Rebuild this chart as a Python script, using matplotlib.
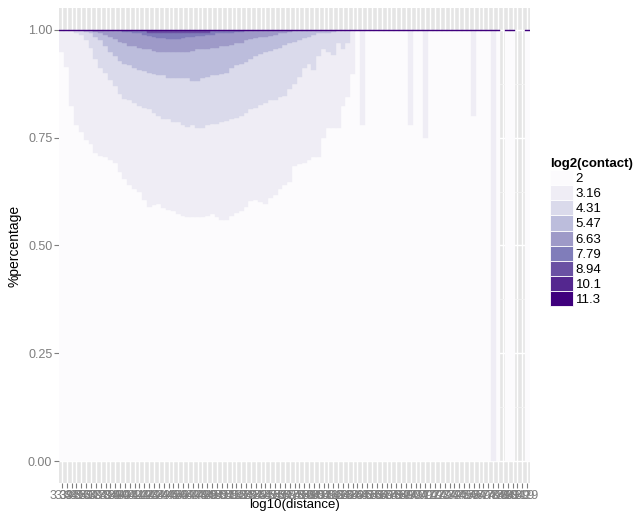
import numpy as np
import matplotlib
matplotlib.use("Agg")
import matplotlib.pyplot as plt
from matplotlib.patches import Patch

plt.rcParams['font.family'] = ['Liberation Sans', 'DejaVu Sans']

# x categories (log10 of distance), illegible in the source, read roughly
distance_labels = (
    "3.39 3.44 3.49 3.54 3.59 3.64 3.69 3.74 3.79 3.84 "
    "3.89 3.94 3.99 4.04 4.09 4.14 4.19 4.24 4.29 4.34 "
    "4.39 4.44 4.49 4.54 4.59 4.64 4.69 4.74 4.79 4.84 "
    "4.89 4.94 4.99 5.04 5.09 5.14 5.19 5.24 5.29 5.34 "
    "5.39 5.44 5.49 5.54 5.59 5.64 5.69 5.74 5.79 5.84 "
    "5.89 5.94 5.99 6.04 6.09 6.14 6.19 6.24 6.29 6.34 "
    "6.39 6.44 6.49 6.54 6.59 6.64 6.69 6.74 6.79 6.84 "
    "6.89 6.94 6.99 7.04 7.09 7.14 7.19 7.24 7.29 7.34 "
    "7.39 7.44 7.49 7.54 7.59 7.64 7.69 7.74 7.79 7.84 "
    "7.89 7.94 7.99 8.04 8.09 8.19 8.29"
).split()

contact_levels = ["2", "3.16", "4.31", "5.47", "6.63", "7.79", "8.94", "10.1", "11.3"]
level_colors = ["#fcfbfd", "#efedf5", "#dadaeb", "#bcbddc", "#9e9ac8",
                "#807dba", "#6a51a3", "#54278f", "#3f007d"]

# categories with no bar at all
missing = [91, 94, 95]

# cumulative share reached at the top of each contact level, per category
top_2 = [0.947, 0.914, 0.822, 0.780, 0.762, 0.745, 0.734, 0.715, 0.708, 0.704,
         0.697, 0.692, 0.671, 0.653, 0.641, 0.630, 0.625, 0.606, 0.590, 0.593,
         0.595, 0.588, 0.583, 0.581, 0.574, 0.569, 0.567, 0.565, 0.565, 0.565,
         0.569, 0.572, 0.565, 0.560, 0.560, 0.569, 0.576, 0.579, 0.590, 0.602,
         0.606, 0.600, 0.595, 0.611, 0.618, 0.630, 0.641, 0.648, 0.683, 0.688,
         0.692, 0.699, 0.704, 0.704, 0.750, 0.773, 0.773, 0.773, 0.824, 0.843,
         0.898, 1.0, 0.778, 1.0, 1.0, 1.0, 1.0, 1.0, 1.0, 1.0,
         1.0, 1.0, 0.778, 1.0, 1.0, 0.750, 1.0, 1.0, 1.0, 1.0,
         1.0, 1.0, 1.0, 1.0, 1.0, 0.799, 1.0, 1.0, 1.0, 0.0,
         1.0, 1.0, 1.0, 1.0, 1.0, 1.0, 1.0]

top_316 = [1.0, 1.0, 0.998, 0.993, 0.988, 0.977, 0.958, 0.931, 0.912, 0.900,
           0.884, 0.870, 0.852, 0.840, 0.836, 0.829, 0.824, 0.819, 0.815, 0.808,
           0.799, 0.794, 0.792, 0.787, 0.785, 0.780, 0.775, 0.778, 0.773, 0.773,
           0.778, 0.782, 0.782, 0.785, 0.789, 0.794, 0.796, 0.801, 0.808, 0.815,
           0.819, 0.826, 0.831, 0.836, 0.838, 0.843, 0.847, 0.863, 0.875, 0.891,
           0.912, 0.921, 0.907, 0.940, 0.954, 0.949, 0.942, 0.968, 0.956, 0.970] + [1.0] * 37

top_431 = [1.0, 1.0, 1.0, 1.0, 0.998, 0.995, 0.991, 0.984, 0.977, 0.963,
           0.949, 0.938, 0.928, 0.921, 0.917, 0.912, 0.907, 0.903, 0.900, 0.898,
           0.896, 0.894, 0.889, 0.889, 0.889, 0.889, 0.887, 0.880, 0.882, 0.887,
           0.891, 0.894, 0.896, 0.898, 0.900, 0.910, 0.917, 0.921, 0.926, 0.933,
           0.940, 0.944, 0.949, 0.951, 0.954, 0.958, 0.965, 0.968, 0.972, 0.977,
           0.981, 0.984, 0.988, 0.991, 0.991, 0.993, 0.995, 1.0, 1.0, 1.0] + [1.0] * 37

top_547 = [1.0, 1.0, 1.0, 1.0, 1.0, 1.0, 0.998, 0.995, 0.993, 0.988,
           0.984, 0.979, 0.972, 0.968, 0.963, 0.961, 0.958, 0.956, 0.954, 0.951,
           0.949, 0.949, 0.947, 0.947, 0.947, 0.949, 0.949, 0.951, 0.954, 0.954,
           0.956, 0.958, 0.958, 0.961, 0.961, 0.965, 0.968, 0.970, 0.975, 0.979,
           0.981, 0.984, 0.984, 0.986, 0.988, 0.991, 0.993, 0.995, 0.998, 1.0] + [1.0] * 47

top_663 = [1.0] * 12 + [0.998, 0.995, 0.995, 0.993, 0.991, 0.988, 0.986, 0.984,
           0.981, 0.981, 0.979, 0.979, 0.979, 0.981, 0.984, 0.984, 0.986, 0.986,
           0.988, 0.988, 0.991, 0.991, 0.993, 0.993, 0.995, 0.995, 0.998] + [1.0] * 58

top_779 = [1.0] * 18 + [0.993] * 13 + [1.0] * 66
top_894 = [1.0] * 97
top_101 = [1.0] * 97
share_113 = 0.004   # thin dark band at the very top of every bar

n = len(distance_labels)
x = np.arange(n)
cum = np.array([top_2, top_316, top_431, top_547, top_663, top_779, top_894, top_101])
cum = np.minimum(cum, 1 - share_113)
cum = np.vstack([np.zeros(n), cum, np.ones(n)])
shares = np.diff(cum, axis=0)
present = np.ones(n, bool)
present[missing] = False

fig = plt.figure(figsize=(6.35, 5.14), dpi=100)
ax = fig.add_axes([59 / 635, 31 / 514, 471 / 635, 475 / 514])
ax.set_facecolor('#E5E5E5')
ax.set_axisbelow(True)

for k, col in enumerate(level_colors):
    h = shares[k]
    m = present & (h > 0)
    ax.bar(x[m], h[m], bottom=cum[k][m], width=1.0, color=col,
           edgecolor=col, linewidth=0.3, zorder=2)

ax.set_xlim(-0.6, n - 0.4)
ax.set_ylim(-0.05, 1.05)
ax.set_xticks(x)
ax.set_xticklabels(distance_labels)
ax.set_yticks([0, 0.25, 0.5, 0.75, 1.0])
ax.set_yticklabels(["0.00", "0.25", "0.50", "0.75", "1.00"])
ax.set_yticks([0.125, 0.375, 0.625, 0.875], minor=True)
ax.grid(True, which='major', color='white', linewidth=1.0)
ax.grid(True, which='minor', axis='y', color='#F2F2F2', linewidth=0.6)
for s in ax.spines.values():
    s.set_visible(False)
ax.tick_params(axis='both', colors='#7F7F7F', length=3.6, width=0.8,
               labelsize=9, pad=1.2)
ax.tick_params(axis='y', which='minor', length=0)

ax.set_xlabel("log10(distance)", fontsize=9.5, labelpad=0)
ax.xaxis.set_label_coords(0.5, -0.034)
ax.set_ylabel("%percentage", fontsize=10, labelpad=5)

handles = [Patch(facecolor=c, edgecolor='white', linewidth=0.6) for c in level_colors]
leg = ax.legend(handles, contact_levels, title="log2(contact)",
                loc='upper left', bbox_to_anchor=(550 / 635, 1 - 158 / 514),
                bbox_transform=fig.transFigure, frameon=False, fontsize=9.5,
                title_fontproperties={'weight': 'bold', 'size': 9.5},
                handlelength=1.74, handleheight=1.39, labelspacing=0,
                handletextpad=0.2, borderpad=0, borderaxespad=0,
                alignment='left')

fig.savefig("out.png", dpi=100)
